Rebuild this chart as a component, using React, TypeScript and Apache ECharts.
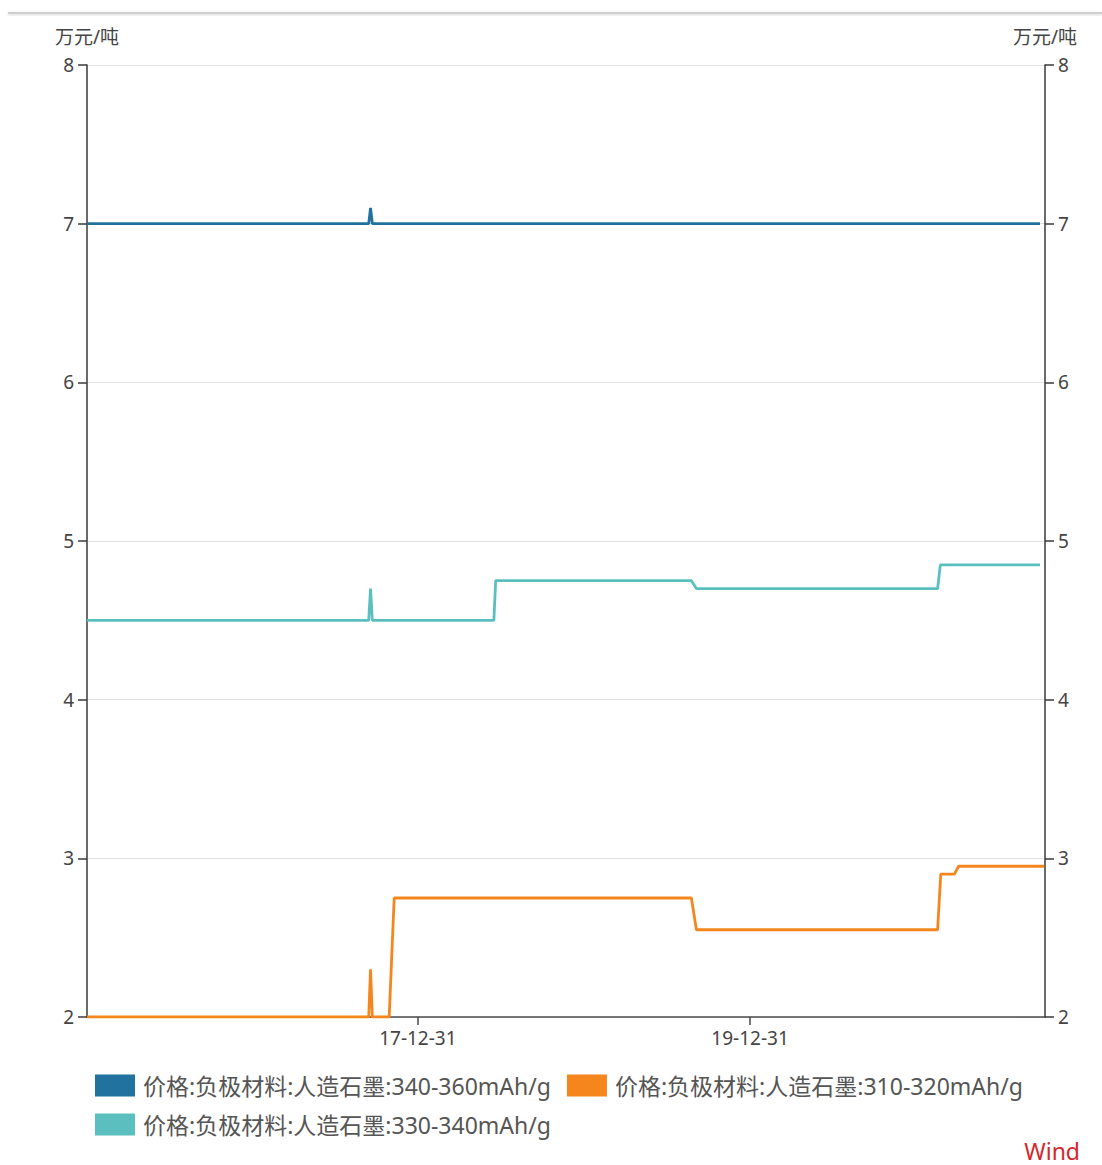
import React, { useEffect, useRef } from "react";
import * as echarts from "echarts";

const FONT = '"Noto Sans", "Noto Sans CJK SC", sans-serif';

const seriesNames = [
  "价格:负极材料:人造石墨:340-360mAh/g",
  "价格:负极材料:人造石墨:310-320mAh/g",
  "价格:负极材料:人造石墨:330-340mAh/g",
];
const seriesColors = ["#21729f", "#f5861d", "#5cbfbf"];

// 340-360mAh/g
const highDates = ["2016-01-04", "2017-09-14", "2017-09-18", "2017-09-22", "2021-09-28"];
const highValues = [7.0, 7.0, 7.1, 7.0, 7.0];

// 310-320mAh/g
const lowDates = [
  "2016-01-04", "2017-09-14", "2017-09-18", "2017-09-22", "2017-10-29", "2017-11-09",
  "2019-08-24", "2019-09-04", "2021-02-15", "2021-02-22", "2021-03-24", "2021-04-02", "2021-10-07",
];
const lowValues = [2.0, 2.0, 2.3, 2.0, 2.0, 2.75, 2.75, 2.55, 2.55, 2.9, 2.9, 2.95, 2.95];

// 330-340mAh/g
const midDates = [
  "2016-01-04", "2017-09-14", "2017-09-18", "2017-09-22", "2018-06-16", "2018-06-20",
  "2019-08-24", "2019-09-04", "2021-02-15", "2021-02-21", "2021-09-28",
];
const midValues = [4.5, 4.5, 4.7, 4.5, 4.5, 4.75, 4.75, 4.7, 4.7, 4.85, 4.85];

const xMinDate = "2016-01-04";
const xMaxDate = "2021-10-09";
const xLabelDates = ["2017-12-31", "2019-12-31"];

const yMin = 2;
const yMax = 8;
const yStep = 1;
const unitLabel = "万元/吨";

const toTs = (s: string) => new Date(s + "T00:00:00").getTime();
const pad = (n: number) => (n < 10 ? "0" + n : "" + n);
const fmtDate = (v: number) => {
  const d = new Date(v);
  return `${pad(d.getFullYear() % 100)}-${pad(d.getMonth() + 1)}-${pad(d.getDate())}`;
};
const pairs = (dates: string[], vals: number[]) => dates.map((d, i) => [toTs(d), vals[i]]);

export default function App() {
  const ref = useRef<HTMLDivElement>(null);

  useEffect(() => {
    if (!ref.current) return;
    const chart = echarts.init(ref.current, null, { renderer: "svg" });
    const labelTicks = xLabelDates.map(toTs);

    const yAxisCommon = {
      type: "value",
      min: yMin,
      max: yMax,
      interval: yStep,
      name: unitLabel,
      nameLocation: "end",
      nameGap: 19,
      nameTextStyle: { fontSize: 19, color: "#444", fontFamily: FONT, align: "center", verticalAlign: "bottom" },
      axisLine: { show: true, lineStyle: { color: "#3a3a3a", width: 1.5 } },
      axisTick: { show: true, length: 9, lineStyle: { color: "#3a3a3a", width: 1.5 } },
      axisLabel: { fontSize: 19, color: "#444", fontFamily: FONT, margin: 13 },
    };

    const dataSets = [pairs(highDates, highValues), pairs(lowDates, lowValues), pairs(midDates, midValues)];

    chart.setOption({
      animation: false,
      backgroundColor: "#ffffff",
      grid: { left: 87, right: 57, top: 65, bottom: 148, containLabel: false },
      xAxis: {
        // dates held as timestamps on a linear axis so the two labelled ticks can be placed exactly
        type: "value",
        scale: true,
        min: toTs(xMinDate),
        max: toTs(xMaxDate),
        axisLine: { show: true, lineStyle: { color: "#4a4a4a", width: 1.5 } },
        axisTick: { show: true, length: 8, customValues: labelTicks, lineStyle: { color: "#4a4a4a", width: 1.5 } },
        axisLabel: {
          customValues: labelTicks,
          formatter: (v: number) => fmtDate(v),
          fontSize: 19,
          color: "#444",
          fontFamily: FONT,
          margin: 11,
        },
        splitLine: { show: false },
      },
      yAxis: [
        { ...yAxisCommon, position: "left", splitLine: { show: true, lineStyle: { color: "#e2e2e2", width: 1 } } },
        { ...yAxisCommon, position: "right", splitLine: { show: false } },
      ],
      legend: {
        left: 95,
        top: 1074,
        width: 960,
        padding: 0,
        orient: "horizontal",
        icon: "rect",
        itemWidth: 40,
        itemHeight: 22,
        itemGap: 16,
        textStyle: { fontSize: 23, color: "#555", fontFamily: FONT, padding: [0, 0, 0, 3] },
        data: seriesNames,
      },
      series: seriesNames.map((name, i) => ({
        name,
        type: "line",
        yAxisIndex: 0,
        data: dataSets[i],
        symbol: "none",
        color: seriesColors[i],
        lineStyle: { width: 2.8, color: seriesColors[i] },
      })),
      graphic: [
        {
          type: "rect",
          shape: { x: 8, y: 12, width: 1094, height: 2 },
          style: { fill: "#cfcfcf", shadowBlur: 3, shadowColor: "rgba(0,0,0,0.18)", shadowOffsetY: 1 },
        },
        {
          type: "text",
          right: 22,
          top: 1139,
          style: { text: "Wind", fontSize: 23, fill: "#d7262b", fontFamily: FONT },
        },
      ],
    });

    return () => chart.dispose();
  }, []);

  return <div ref={ref} style={{ position: "fixed", left: 0, top: 0, width: 1102, height: 1165 }} />;
}
